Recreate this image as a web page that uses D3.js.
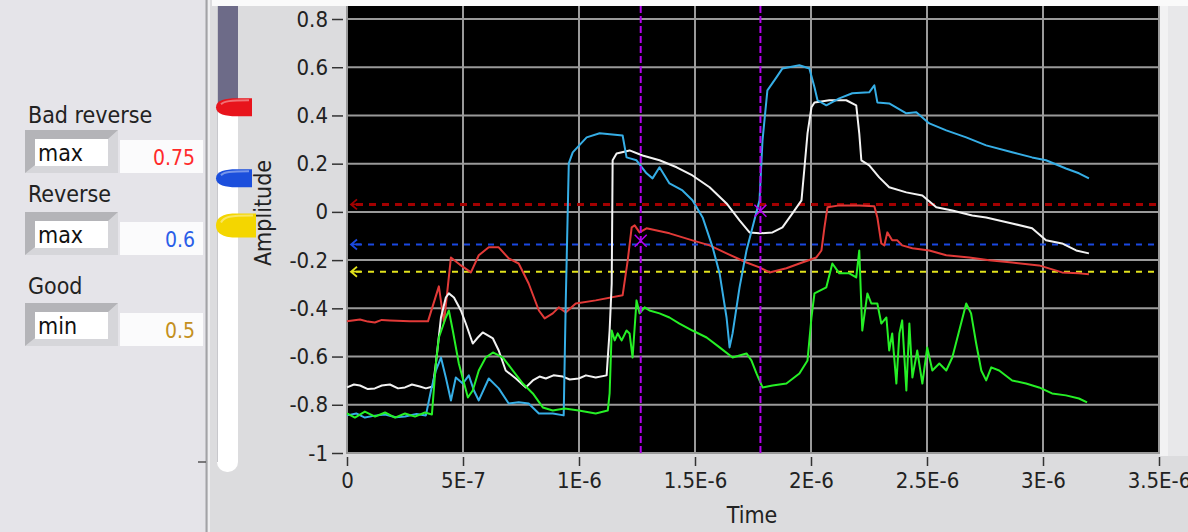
<!DOCTYPE html>
<html>
<head>
<meta charset="utf-8">
<script src="https://cdn.jsdelivr.net/npm/d3@7"></script>
<style>
  body { margin: 0; background: #dcdcde; }
  svg text { font-family: "DejaVu Sans Condensed", "DejaVu Sans", sans-serif; font-stretch: condensed; }
</style>
</head>
<body>
<svg id="chart"></svg>
<script>
// Time in microseconds, amplitude
const redTrace = [[0,-0.454],[0.056,-0.446],[0.09,-0.455],[0.12,-0.459],[0.15,-0.448],[0.185,-0.45],[0.271,-0.454],[0.349,-0.454],
  [0.396,-0.309],[0.418,-0.459],[0.448,-0.189],[0.491,-0.222],[0.534,-0.251],[0.568,-0.18],[0.611,-0.147],
  [0.654,-0.147],[0.697,-0.193],[0.74,-0.214],[0.783,-0.297],[0.827,-0.409],[0.852,-0.442],[0.887,-0.421],
  [0.913,-0.396],[0.943,-0.417],[0.986,-0.38],[1.072,-0.367],[1.188,-0.346],[1.21,-0.201],[1.227,-0.064],
  [1.24,-0.056],[1.261,-0.085],[1.291,-0.068],[1.39,-0.089],[1.489,-0.118],[1.563,-0.139],[1.636,-0.172],
  [1.722,-0.21],[1.778,-0.23],[1.821,-0.251],[1.894,-0.234],[1.95,-0.214],[2.023,-0.189],[2.045,-0.16],
  [2.058,-0.064],[2.071,0.019],[2.122,0.027],[2.208,0.027],[2.273,0.023],[2.286,-0.023],[2.303,-0.131],
  [2.316,-0.139],[2.329,-0.085],[2.35,-0.118],[2.372,-0.118],[2.393,-0.139],[2.437,-0.151],[2.51,-0.16],
  [2.583,-0.18],[2.682,-0.189],[2.768,-0.201],[2.867,-0.21],[2.983,-0.222],[3.082,-0.251],[3.155,-0.255],[3.198,-0.259]];

const whiteTrace = [[0,-0.728],[0.03,-0.716],[0.056,-0.72],[0.09,-0.735],[0.12,-0.732],[0.15,-0.72],[0.185,-0.716],
  [0.22,-0.732],[0.25,-0.728],[0.28,-0.716],[0.314,-0.724],[0.34,-0.732],[0.37,-0.724],
  [0.383,-0.629],[0.405,-0.438],[0.426,-0.355],[0.439,-0.338],[0.461,-0.355],[0.491,-0.409],[0.512,-0.463],
  [0.542,-0.546],[0.564,-0.521],[0.585,-0.5],[0.629,-0.525],[0.654,-0.575],[0.684,-0.658],[0.728,-0.691],
  [0.771,-0.728],[0.801,-0.699],[0.83,-0.683],[0.857,-0.691],[0.89,-0.678],[0.93,-0.683],[0.96,-0.695],[0.999,-0.691],
  [1.03,-0.678],[1.072,-0.687],[1.119,-0.678],
  [1.132,-0.492],[1.141,-0.297],[1.145,0.214],[1.162,0.242],[1.218,0.255],[1.274,0.234],[1.347,0.214],
  [1.421,0.185],[1.489,0.151],[1.563,0.102],[1.636,0.035],[1.692,-0.035],[1.735,-0.085],[1.778,-0.089],
  [1.834,-0.085],[1.877,-0.064],[1.92,-0.006],[1.959,0.048],[1.972,0.185],[1.985,0.326],[2.002,0.434],
  [2.015,0.454],[2.079,0.463],[2.152,0.463],[2.195,0.442],[2.208,0.326],[2.217,0.214],[2.251,0.193],
  [2.294,0.143],[2.337,0.102],[2.411,0.081],[2.48,0.068],[2.54,0.019],[2.609,0.006],[2.695,-0.015],
  [2.755,-0.023],[2.867,-0.048],[2.953,-0.068],[3.013,-0.118],[3.082,-0.131],[3.143,-0.16],[3.198,-0.172]];

const blueTrace = [[0,-0.844],[0.04,-0.836],[0.077,-0.853],[0.12,-0.845],[0.164,-0.84],[0.21,-0.852],[0.25,-0.849],[0.3,-0.838],[0.34,-0.844],[0.362,-0.741],
  [0.383,-0.658],[0.405,-0.604],[0.426,-0.687],[0.448,-0.782],[0.469,-0.687],[0.499,-0.712],[0.525,-0.678],
  [0.547,-0.741],[0.568,-0.782],[0.611,-0.691],[0.654,-0.732],[0.697,-0.795],[0.74,-0.79],[0.783,-0.795],
  [0.827,-0.836],[0.887,-0.836],[0.934,-0.844],[0.943,-0.367],[0.956,0.201],[0.973,0.247],[1.033,0.309],
  [1.089,0.326],[1.188,0.317],[1.205,0.226],[1.248,0.214],[1.291,0.16],[1.317,0.139],[1.347,0.185],
  [1.39,0.118],[1.446,0.089],[1.489,0.048],[1.533,-0.023],[1.576,-0.147],[1.606,-0.255],[1.636,-0.438],
  [1.649,-0.562],[1.662,-0.504],[1.692,-0.313],[1.722,-0.16],[1.748,-0.064],[1.778,0.048],[1.791,0.297],
  [1.812,0.504],[1.851,0.558],[1.877,0.595],[1.95,0.608],[1.993,0.595],[2.015,0.517],[2.028,0.463],
  [2.066,0.442],[2.122,0.471],[2.178,0.492],[2.251,0.496],[2.273,0.525],[2.286,0.454],[2.337,0.45],
  [2.411,0.409],[2.454,0.413],[2.51,0.367],[2.583,0.338],[2.669,0.309],[2.755,0.276],[2.867,0.247],
  [2.953,0.226],[3.013,0.214],[3.099,0.18],[3.155,0.16],[3.198,0.139]];

const greenTrace = [[0,-0.836],[0.034,-0.853],[0.077,-0.828],[0.121,-0.849],[0.164,-0.832],[0.207,-0.853],
  [0.25,-0.836],[0.293,-0.849],[0.336,-0.832],[0.366,-0.84],[0.383,-0.629],[0.396,-0.521],[0.426,-0.438],
  [0.439,-0.409],[0.456,-0.492],[0.482,-0.629],[0.521,-0.77],[0.542,-0.741],[0.568,-0.658],[0.598,-0.604],
  [0.629,-0.583],[0.672,-0.604],[0.715,-0.658],[0.758,-0.712],[0.801,-0.753],[0.844,-0.811],[0.887,-0.824],
  [0.938,-0.815],[0.999,-0.824],[1.072,-0.836],[1.124,-0.824],[1.132,-0.753],[1.141,-0.492],[1.154,-0.533],
  [1.167,-0.504],[1.184,-0.533],[1.205,-0.492],[1.218,-0.504],[1.231,-0.604],[1.248,-0.367],[1.261,-0.421],
  [1.283,-0.396],[1.304,-0.409],[1.347,-0.421],[1.39,-0.438],[1.433,-0.463],[1.489,-0.492],[1.55,-0.521],
  [1.606,-0.562],[1.662,-0.604],[1.722,-0.587],[1.743,-0.616],[1.765,-0.67],[1.791,-0.728],[1.834,-0.72],
  [1.894,-0.712],[1.95,-0.67],[1.985,-0.616],[2.002,-0.438],[2.015,-0.338],[2.066,-0.313],[2.092,-0.214],
  [2.122,-0.255],[2.165,-0.255],[2.195,-0.272],[2.208,-0.16],[2.221,-0.492],[2.243,-0.338],[2.26,-0.38],
  [2.286,-0.38],[2.303,-0.463],[2.325,-0.438],[2.337,-0.575],[2.35,-0.504],[2.368,-0.712],[2.381,-0.504],
  [2.393,-0.45],[2.411,-0.741],[2.424,-0.463],[2.437,-0.687],[2.458,-0.575],[2.48,-0.712],[2.501,-0.562],
  [2.523,-0.658],[2.553,-0.629],[2.583,-0.658],[2.609,-0.604],[2.639,-0.492],[2.669,-0.38],[2.69,-0.421],
  [2.712,-0.546],[2.734,-0.658],[2.755,-0.699],[2.777,-0.645],[2.811,-0.658],[2.867,-0.699],[2.927,-0.712],
  [2.983,-0.728],[3.039,-0.753],[3.099,-0.761],[3.155,-0.774],[3.19,-0.79]];

const xTicks = [0, 0.5, 1, 1.5, 2, 2.5, 3, 3.5];
const xTickLabels = ["0", "5E-7", "1E-6", "1.5E-6", "2E-6", "2.5E-6", "3E-6", "3.5E-6"];
const yTicks = [0.8, 0.6, 0.4, 0.2, 0, -0.2, -0.4, -0.6, -0.8, -1];
const yTickLabels = ["0.8", "0.6", "0.4", "0.2", "0", "-0.2", "-0.4", "-0.6", "-0.8", "-1"];

// threshold levels drawn as dashed lines in the plot
const levelValues = [0.031, -0.135, -0.248];
const levelColors = ["#a30000", "#1a48e0", "#e2e21c"];

// cursors (time in µs, amplitude where the marker sits)
const cursorTimes = [1.266, 1.782];
const cursorValues = [-0.12, 0.005];

// slider controls on the left
const controlNames = ["Bad reverse", "Reverse", "Good"];
const controlModes = ["max", "max", "min"];
const controlValues = [0.75, 0.6, 0.5];
const controlColors = ["#ff2a2a", "#2a5ee8", "#c49020"];
const thumbColors = ["#e8141c", "#1c4fdc", "#f4d600"];

const width = 1188, height = 532;
const svg = d3.select("#chart").attr("width", width).attr("height", height);

// backgrounds
svg.append("rect").attr("width", width).attr("height", height).attr("fill", "#dcdcde");
svg.append("rect").attr("x", 0).attr("y", 0).attr("width", 206).attr("height", height).attr("fill", "#e5e4e9");
svg.append("line").attr("x1", 206.5).attr("x2", 206.5).attr("y1", 0).attr("y2", height).attr("stroke", "#a2a2a6").attr("stroke-width", 2);
svg.append("line").attr("x1", 209).attr("x2", 209).attr("y1", 0).attr("y2", height).attr("stroke", "#f4f4f6").attr("stroke-width", 1.5);
svg.append("rect").attr("x", 212).attr("y", 0).attr("width", width - 212).attr("height", 6).attr("fill", "#fafafa");
svg.append("rect").attr("x", 1160).attr("y", 6).attr("width", 28).attr("height", 450).attr("fill", "#e8e8ea");
svg.append("rect").attr("x", 1160).attr("y", 6).attr("width", 8).attr("height", 450).attr("fill", "#f2f2f3");

// plot area
const plotLeft = 347, plotRight = 1159, plotTop = 6, plotBottom = 454;
const x = d3.scaleLinear().domain([0, 3.5]).range([plotLeft, plotRight]);
const y = d3.scaleLinear().domain([-1, 0.8]).range([453, 19]);

svg.append("rect").attr("x", plotLeft).attr("y", plotTop)
  .attr("width", plotRight - plotLeft + 1).attr("height", plotBottom - plotTop).attr("fill", "#000");

const grid = svg.append("g").attr("stroke", "#9a9a9a").attr("stroke-width", 2);
grid.selectAll("line.v").data(xTicks).enter().append("line")
  .attr("x1", d => x(d)).attr("x2", d => x(d)).attr("y1", plotTop).attr("y2", plotBottom);
grid.selectAll("line.h").data(yTicks).enter().append("line")
  .attr("x1", plotLeft).attr("x2", plotRight + 1).attr("y1", d => y(d)).attr("y2", d => y(d));

// axes
const xAxis = d3.axisBottom(x).tickValues(xTicks).tickFormat((d, i) => xTickLabels[i]).tickSize(9).tickPadding(6);
const gx = svg.append("g").attr("transform", `translate(0,${plotBottom + 3})`).call(xAxis);
gx.select(".domain").remove();
gx.selectAll("line").attr("stroke", "#333").attr("stroke-width", 1.5);
gx.selectAll("text").attr("font-size", 22).attr("fill", "#222");

const yAxis = d3.axisLeft(y).tickValues(yTicks).tickFormat((d, i) => yTickLabels[i]).tickSize(11).tickPadding(4);
const gy = svg.append("g").attr("transform", `translate(${plotLeft - 4},0)`).call(yAxis);
gy.select(".domain").remove();
gy.selectAll("line").attr("stroke", "#333").attr("stroke-width", 1.5);
gy.selectAll("text").attr("font-size", 22).attr("fill", "#222");

svg.append("text").attr("x", 752).attr("y", 523).attr("text-anchor", "middle")
  .attr("font-size", 23).attr("fill", "#222").text("Time");
svg.append("text").attr("transform", "translate(271,213) rotate(-90)").attr("text-anchor", "middle")
  .attr("font-size", 23).attr("fill", "#222").text("Amplitude");

const plot = svg.append("g");

// threshold lines with arrow markers
levelValues.forEach((v, i) => {
  plot.append("line").attr("x1", 356).attr("x2", plotRight + 1).attr("y1", y(v)).attr("y2", y(v))
    .attr("stroke", levelColors[i]).attr("stroke-width", i === 0 ? 3 : 2)
    .attr("stroke-dasharray", i === 0 ? "7,6" : "6,6");
  plot.append("path")
    .attr("d", `M${357},${y(v) - 5} L${351},${y(v)} L${357},${y(v) + 5} M${351},${y(v)} L${361},${y(v)}`)
    .attr("fill", "none").attr("stroke", levelColors[i]).attr("stroke-width", 1.8);
});

// traces
const line = d3.line().x(d => x(d[0])).y(d => y(d[1]));
const traces = [
  { data: redTrace, color: "#e23a38" },
  { data: whiteTrace, color: "#f2f2f2" },
  { data: blueTrace, color: "#36aee6" },
  { data: greenTrace, color: "#26f026" }
];
plot.selectAll("path.trace").data(traces).enter().append("path")
  .attr("class", "trace")
  .attr("d", d => line(d.data))
  .attr("fill", "none")
  .attr("stroke", d => d.color)
  .attr("stroke-width", 2)
  .attr("stroke-linejoin", "round");

// cursors
cursorTimes.forEach((t, i) => {
  plot.append("line").attr("x1", x(t)).attr("x2", x(t)).attr("y1", plotTop).attr("y2", plotBottom)
    .attr("stroke", "#b400f0").attr("stroke-width", 2).attr("stroke-dasharray", "7,3");
  const cx = x(t), cy = y(cursorValues[i]);
  plot.append("path").attr("d", `M${cx - 6},${cy - 6}L${cx + 6},${cy + 6}M${cx - 6},${cy + 6}L${cx + 6},${cy - 6}`)
    .attr("stroke", "#b400f0").attr("stroke-width", 1.5);
});

// slider on the left
const s = d3.scaleLinear().domain([0, 1]).range([462, -11]);
const slider = svg.append("g");
slider.append("rect").attr("x", 217).attr("y", 6).attr("width", 21).attr("height", 466).attr("rx", 10)
  .attr("fill", "#ffffff");
slider.append("rect").attr("x", 217).attr("y", 6).attr("width", 21).attr("height", s(controlValues[0]) - 6)
  .attr("fill", "#6d6b88");
slider.append("line").attr("x1", 217.5).attr("x2", 217.5).attr("y1", 6).attr("y2", 462)
  .attr("stroke", "#c8c8cc").attr("stroke-width", 1);
slider.append("line").attr("x1", 198).attr("x2", 206).attr("y1", s(0)).attr("y2", s(0))
  .attr("stroke", "#555").attr("stroke-width", 1.5);

controlValues.forEach((v, i) => {
  const cy = s(v), h = i === 2 ? 12 : 9, right = i === 2 ? 256 : 252;
  slider.append("path")
    .attr("d", `M216,${cy} C216,${cy - h * 0.8} 226,${cy - h} 236,${cy - h} L${right},${cy - h} L${right},${cy + h} L236,${cy + h} C226,${cy + h} 216,${cy + h * 0.8} 216,${cy}Z`)
    .attr("fill", thumbColors[i]);
  slider.append("path")
    .attr("d", `M221,${cy - 3} C224,${cy - h + 3} 230,${cy - h + 2} ${right - 3},${cy - h + 2}`)
    .attr("fill", "none").attr("stroke", "#ffffff").attr("stroke-opacity", 0.4).attr("stroke-width", 2);
});

// controls panel
const boxTops = [130, 212, 303];
const nameBaselines = [123, 202, 294];
controlNames.forEach((name, i) => {
  const g = svg.append("g");
  const t = boxTops[i];
  g.append("text").attr("x", 28).attr("y", nameBaselines[i]).attr("font-size", 23).attr("fill", "#222").text(name);
  // bevelled mode box
  g.append("rect").attr("x", 25).attr("y", t).attr("width", 93).attr("height", 43).attr("fill", "#d6d6da");
  g.append("path").attr("d", `M25,${t} L118,${t} L108,${t + 9} L35,${t + 9} L35,${t + 35} L25,${t + 43}Z`).attr("fill", "#b4b4b8");
  g.append("rect").attr("x", 35).attr("y", t + 9).attr("width", 73).attr("height", 27).attr("fill", "#ffffff");
  g.append("text").attr("x", 38).attr("y", t + 31).attr("font-size", 23).attr("fill", "#111").text(controlModes[i]);
  // value box
  g.append("rect").attr("x", 120).attr("y", t + 10).attr("width", 83).attr("height", 33).attr("fill", "#fbfbfc");
  g.append("text").attr("x", 195).attr("y", t + 35).attr("text-anchor", "end").attr("font-size", 21)
    .attr("fill", controlColors[i]).text(controlValues[i]);
});
</script>
</body>
</html>
